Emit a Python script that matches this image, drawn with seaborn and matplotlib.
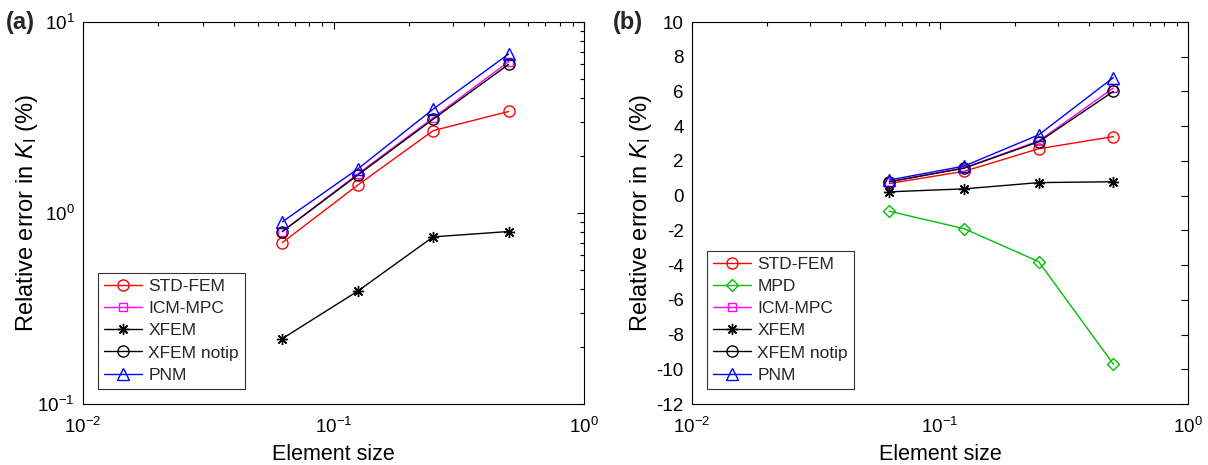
import numpy as np
import pandas as pd
import matplotlib
matplotlib.use("Agg")
import matplotlib.pyplot as plt
import seaborn as sns
from matplotlib.ticker import LogLocator, FixedLocator

sns.set_theme(style="white")
plt.rcParams['font.family'] = ['Liberation Sans', 'DejaVu Sans']
plt.rcParams['mathtext.fontset'] = 'custom'
plt.rcParams['mathtext.rm'] = 'Liberation Sans'
plt.rcParams['mathtext.it'] = 'Liberation Sans:italic'
plt.rcParams['axes.unicode_minus'] = False

element_size = [0.0625, 0.125, 0.25, 0.5]
std_fem = [0.70, 1.40, 2.70, 3.40]
mpd = [-0.90, -1.90, -3.80, -9.70]
icm_mpc = [0.80, 1.60, 3.15, 6.20]
xfem = [0.22, 0.39, 0.75, 0.80]
xfem_notip = [0.80, 1.58, 3.10, 6.00]
pnm = [0.90, 1.70, 3.50, 6.80]

styles = {
    'STD-FEM': dict(color='#ff0000', marker='o', ms=8),
    'MPD': dict(color='#00c000', marker='D', ms=6.5),
    'ICM-MPC': dict(color='#ff00ff', marker='s', ms=6),
    'XFEM': dict(color='black', marker=(8, 2, 0), ms=8),
    'XFEM notip': dict(color='black', marker='o', ms=8),
    'PNM': dict(color='#0000ff', marker='^', ms=9),
}

series_a = [('STD-FEM', std_fem), ('ICM-MPC', icm_mpc), ('XFEM', xfem),
            ('XFEM notip', xfem_notip), ('PNM', pnm)]
series_b = [('STD-FEM', std_fem), ('MPD', mpd), ('ICM-MPC', icm_mpc), ('XFEM', xfem),
            ('XFEM notip', xfem_notip), ('PNM', pnm)]

fig = plt.figure(figsize=(12.08, 4.65), dpi=100)
W, H = 1208, 465
axA = fig.add_axes([83 / W, 1 - 404 / H, 501 / W, 382 / H])
axB = fig.add_axes([692 / W, 1 - 404 / H, 496 / W, 382 / H])

def draw(ax, series):
    for name, vals in series:
        st = styles[name]
        df = pd.DataFrame({'size': element_size, 'err': vals})
        sns.lineplot(data=df, x='size', y='err', ax=ax, color=st['color'],
                     marker=st['marker'], markersize=st['ms'], markerfacecolor='none',
                     markeredgecolor=st['color'], markeredgewidth=1.0,
                     linewidth=1.0, label=name, legend=False)

draw(axA, series_a)
draw(axB, series_b)

for ax, lp in ((axA, -2), (axB, 2)):
    ax.set_xscale('log')
    ax.set_xlim(1e-2, 1e0)
    ax.xaxis.set_major_locator(FixedLocator([1e-2, 1e-1, 1e0]))
    ax.xaxis.set_minor_locator(LogLocator(base=10, subs=np.arange(2, 10)))
    ax.tick_params(which='both', direction='in', top=True, right=True,
                   labelsize=13.5, colors='black', length=5, width=0.8)
    ax.tick_params(which='minor', length=3)
    ax.tick_params(axis='x', which='major', pad=9)
    ax.tick_params(axis='y', which='major', pad=6)
    for s in ax.spines.values():
        s.set_color('black')
        s.set_linewidth(0.8)
    ax.set_xlabel('Element size', fontsize=15.5, color='black', labelpad=5)
    ax.set_ylabel(r'Relative error in $\mathit{K}_{\mathrm{I}}$ (%)', fontsize=17,
                  color='black', labelpad=lp)
    ax.grid(False)

axA.set_yscale('log')
axA.set_ylim(1e-1, 1e1)
axA.yaxis.set_major_locator(FixedLocator([1e-1, 1e0, 1e1]))
axA.yaxis.set_minor_locator(LogLocator(base=10, subs=np.arange(2, 10)))
axA.tick_params(which='both', direction='in', right=True)

axB.set_ylim(-12, 10)
axB.yaxis.set_major_locator(FixedLocator(np.arange(-12, 11, 2)))
axB.yaxis.set_minor_locator(FixedLocator([]))

for ax, anchor in ((axA, (0.03, 0.04)), (axB, (0.03, 0.04))):
    leg = ax.legend(loc='lower left', bbox_to_anchor=anchor, fontsize=12.5,
                    frameon=True, fancybox=False, edgecolor='black', handlelength=2.2,
                    borderpad=0.35, labelspacing=0.4, handletextpad=0.35, borderaxespad=0)
    leg.get_frame().set_linewidth(0.8)

fig.text(6 / W, 1 - 22 / H, '(a)', fontsize=17, fontweight='bold', va='center', ha='left')
fig.text(613 / W, 1 - 22 / H, '(b)', fontsize=17, fontweight='bold', va='center', ha='left')

fig.savefig('out.png', dpi=100)
